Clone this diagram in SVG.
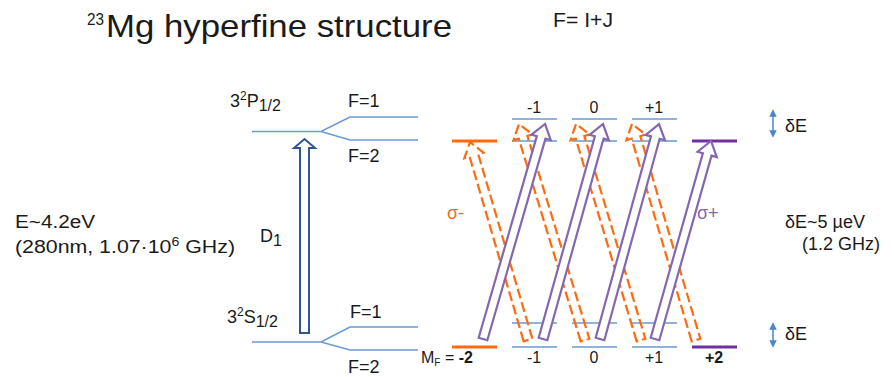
<svg xmlns="http://www.w3.org/2000/svg" width="894" height="377" viewBox="0 0 894 377">
<style>
text{font-family:"Liberation Sans",Arial,sans-serif;fill:#1a1a1a}
.t{font-size:18px}
.s{font-size:12px}
.m{font-size:16px}
.lv{stroke:#6B9AD4;stroke-width:1.6;fill:none}
.or{stroke:#FF6A10;stroke-width:3.2}
.pu{stroke:#7030A0;stroke-width:3.2}
.pa{fill:#fff;stroke:#8467AE;stroke-width:2.2;stroke-linejoin:miter}
.oa{fill:none;stroke:#FF6A10;stroke-width:2.2;stroke-dasharray:10 4}
.de{stroke:#4A86C8;stroke-width:1.5;fill:none}
</style>
<defs>
<marker id="ah" viewBox="0 0 10 10" refX="5" refY="5" markerWidth="5" markerHeight="5" orient="auto-start-reverse"><path d="M0,0 L10,5 L0,10 Z" fill="#4A86C8"/></marker>
</defs>

<g id="title">
<text x="87" y="25" style="font-size:16px" textLength="17" lengthAdjust="spacingAndGlyphs">23</text>
<text x="106" y="37" style="font-size:32px" textLength="346" lengthAdjust="spacingAndGlyphs">Mg hyperfine structure</text>
<text x="553" y="27" style="font-size:20px" textLength="60" lengthAdjust="spacingAndGlyphs">F= I+J</text>
</g>

<g id="P-level">
<path class="lv" d="M252,131.5 H321 L350,117 H418 M321,131.5 L350,140 H418"/>
<text x="230" y="107" class="t">3<tspan class="s" dy="-7">2</tspan><tspan dy="7">P</tspan><tspan class="m" dy="4">1/2</tspan></text>
<text x="348" y="107" class="t">F=1</text>
<text x="348" y="162" class="t">F=2</text>
</g>

<g id="S-level">
<path class="lv" d="M252,342 H321 L350,327 H418 M321,342 L350,350 H418"/>
<text x="227" y="323" class="t">3<tspan class="s" dy="-7">2</tspan><tspan dy="7">S</tspan><tspan class="m" dy="4">1/2</tspan></text>
<text x="350" y="318" class="t">F=1</text>
<text x="348" y="373" class="t">F=2</text>
</g>

<g id="energy-label">
<text x="15" y="228" class="t" textLength="80" lengthAdjust="spacingAndGlyphs">E~4.2eV</text>
<text x="15" y="253" class="t" textLength="220" lengthAdjust="spacingAndGlyphs">(280nm, 1.07·10<tspan class="s" dy="-7">6</tspan><tspan dy="7"> GHz)</tspan></text>
<text x="260" y="242" class="t">D<tspan class="m" dy="4">1</tspan></text>
</g>

<g id="upper-sublevels">
<path class="lv" d="M512,119 H557 M572,119 H617 M632,119 H677 M512,141 H557 M572,141 H617 M632,141 H677"/>
<path class="or" d="M452,141 H497"/>
<path class="pu" d="M692,141 H737"/>
<text x="534" y="113" class="m" text-anchor="middle">-1</text>
<text x="594" y="113" class="m" text-anchor="middle">0</text>
<text x="654" y="113" class="m" text-anchor="middle">+1</text>
</g>

<g id="lower-sublevels">
<path class="lv" d="M512,323 H557 M572,323 H617 M632,323 H677 M512,347 H557 M572,347 H617 M632,347 H677"/>
<path class="or" d="M452,347 H497"/>
<path class="pu" d="M692,347 H737"/>
<text x="421" y="363" class="m">M<tspan style="font-size:10px" dy="3">F</tspan><tspan dy="-3"> = </tspan><tspan font-weight="bold">-2</tspan></text>
<text x="534" y="363" class="m" text-anchor="middle">-1</text>
<text x="594" y="363" class="m" text-anchor="middle">0</text>
<text x="654" y="363" class="m" text-anchor="middle">+1</text>
<text x="714" y="363" class="m" text-anchor="middle" font-weight="bold">+2</text>
</g>

<g id="splitting-labels">
<path class="de" d="M773,113 V134" marker-start="url(#ah)" marker-end="url(#ah)"/>
<text x="785" y="132" class="t">δE</text>
<path class="de" d="M773,326 V344" marker-start="url(#ah)" marker-end="url(#ah)"/>
<text x="785" y="340" class="t">δE</text>
<text x="785" y="228" class="t">δE~5 µeV</text>
<text x="802" y="250" class="t">(1.2 GHz)</text>
<text x="447" y="219" class="t" style="fill:#FF6A10">σ-</text>
<text x="697" y="219" class="t" style="fill:#8467AE">σ+</text>
</g>

<g id="connectors">
<path d="M300,333 V148 H294 L304.5,139 L315,148 H309 V333 Z" fill="#fff" stroke="#2F5597" stroke-width="2"/>
<g class="oa">
<path transform="translate(528,340) rotate(-16.33)" d="M-4.5,0 V-192.3 H-10 L0,-206.3 L10,-192.3 H4.5 V0 Z"/>
<path transform="translate(585,340) rotate(-16.99)" d="M-4.5,0 V-211.9 H-10 L0,-225.9 L10,-211.9 H4.5 V0 Z"/>
<path transform="translate(641,340) rotate(-16.74)" d="M-4.5,0 V-211.6 H-10 L0,-225.6 L10,-211.6 H4.5 V0 Z"/>
<path transform="translate(696,340) rotate(-16.5)" d="M-4.5,0 V-211.3 H-10 L0,-225.3 L10,-211.3 H4.5 V0 Z"/>
</g>
<g class="pa">
<path transform="translate(483,339) rotate(16.09)" d="M-4.5,0 V-209.8 H-10 L0,-223.8 L10,-209.8 H4.5 V0 Z"/>
<path transform="translate(543,339) rotate(15.59)" d="M-4.5,0 V-209.2 H-10 L0,-223.2 L10,-209.2 H4.5 V0 Z"/>
<path transform="translate(600,339) rotate(15.35)" d="M-4.5,0 V-208.9 H-10 L0,-222.9 L10,-208.9 H4.5 V0 Z"/>
<path transform="translate(655,339) rotate(15.79)" d="M-4.5,0 V-191.8 H-10 L0,-205.8 L10,-191.8 H4.5 V0 Z"/>
</g>
</g>
</svg>
